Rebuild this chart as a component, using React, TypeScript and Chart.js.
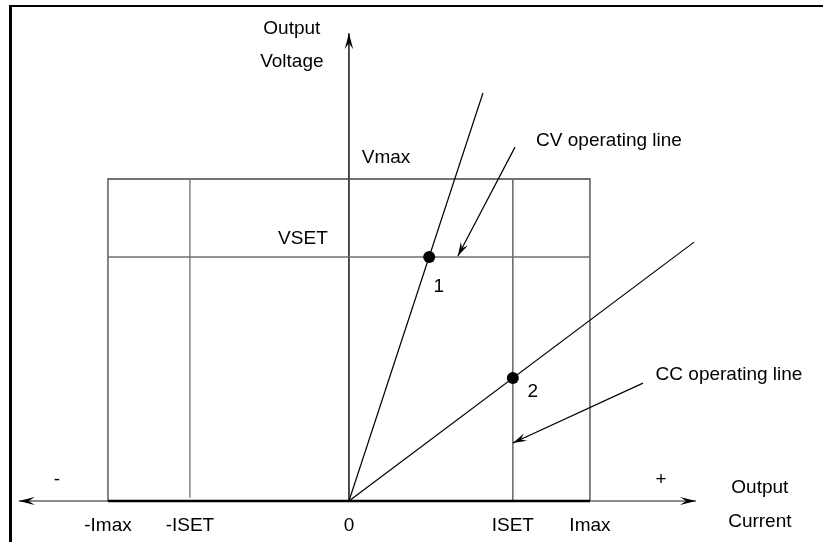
import React, { useEffect, useRef } from "react";
import { Chart, registerables } from "chart.js";

Chart.register(...registerables);

// ---- Data (current in units where Imax = 10, voltage where Vmax = 10) ----
const IMAX = 10;
const ISET = 6.8;
const NEG_ISET = -6.6;
const VMAX = 10;
const VSET = 7.58;

const currentTickValues = [-IMAX, NEG_ISET, 0, ISET, IMAX];
const currentTickLabels = ["-Imax", "-ISET", "0", "ISET", "Imax"];

const currentAxis = [{ x: -13.7, y: 0 }, { x: 14.4, y: 0 }];
const voltageAxis = [{ x: 0, y: 0 }, { x: 0, y: 14.53 }];
const limitBox = [
  { x: -IMAX, y: 0 },
  { x: -IMAX, y: VMAX },
  { x: IMAX, y: VMAX },
  { x: IMAX, y: 0 },
];
const limitBoxBase = [{ x: -IMAX, y: 0 }, { x: IMAX, y: 0 }];
const vsetLine = [{ x: -IMAX, y: VSET }, { x: IMAX, y: VSET }];
const isetLine = [{ x: ISET, y: 0 }, { x: ISET, y: VMAX }];
const negIsetLine = [{ x: NEG_ISET, y: 0.1 }, { x: NEG_ISET, y: VMAX }];
const cvLoadLine = [{ x: 0, y: 0 }, { x: 5.56, y: 12.67 }];
const ccLoadLine = [{ x: 0, y: 0 }, { x: 14.32, y: 8.04 }];
const operatingPoints = [{ x: 3.33, y: VSET }, { x: ISET, y: 3.82 }];
const cvPointer = [{ x: 6.89, y: 10.99 }, { x: 4.52, y: 7.61 }];
const ccPointer = [{ x: 12.2, y: 3.66 }, { x: 6.8, y: 1.8 }];

// text annotations: [text, x, y]
const annotations: [string, number, number][] = [
  ["Output", -2.37, 14.66],
  ["Voltage", -2.37, 13.63],
  ["Vmax", 1.54, 10.65],
  ["VSET", -1.91, 8.14],
  ["CV operating line", 10.79, 11.18],
  ["1", 3.73, 6.65],
  ["2", 7.63, 3.39],
  ["CC operating line", 15.77, 3.91],
  ["-", -12.12, 0.65],
  ["+", 12.95, 0.65],
  ["Output", 17.05, 0.4],
  ["Current", 17.05, -0.65],
];
const tickLabelY = -0.78;

const FONT = "19px 'Liberation Sans', Arial, sans-serif";

function drawArrowHead(ctx: CanvasRenderingContext2D, fx: number, fy: number, tx: number, ty: number, len = 15, half = 4.2) {
  const dx = tx - fx;
  const dy = ty - fy;
  const d = Math.hypot(dx, dy) || 1;
  const ux = dx / d;
  const uy = dy / d;
  const nx = -uy;
  const ny = ux;
  ctx.beginPath();
  ctx.moveTo(tx, ty);
  ctx.lineTo(tx - len * ux + half * nx, ty - len * uy + half * ny);
  ctx.lineTo(tx - len * 0.62 * ux, ty - len * 0.62 * uy);
  ctx.lineTo(tx - len * ux - half * nx, ty - len * uy - half * ny);
  ctx.closePath();
  ctx.fill();
}

const diagramPlugin = {
  id: "diagramPlugin",
  afterDatasetsDraw(chart: any) {
    const ctx: CanvasRenderingContext2D = chart.ctx;
    const xs = chart.scales.x;
    const ys = chart.scales.y;
    const px = (v: number) => xs.getPixelForValue(v);
    const py = (v: number) => ys.getPixelForValue(v);
    ctx.save();
    chart.data.datasets.forEach((ds: any) => {
      const pts = ds.data;
      if (!pts || pts.length < 2) return;
      ctx.fillStyle = ds.arrowColor || "#000";
      if (ds.arrowEnd) {
        const a = pts[pts.length - 2];
        const b = pts[pts.length - 1];
        drawArrowHead(ctx, px(a.x), py(a.y), px(b.x), py(b.y), ds.arrowLen, ds.arrowHalf);
      }
      if (ds.arrowStart) {
        const a = pts[1];
        const b = pts[0];
        drawArrowHead(ctx, px(a.x), py(a.y), px(b.x), py(b.y), ds.arrowLen, ds.arrowHalf);
      }
    });
    ctx.fillStyle = "#000";
    ctx.font = FONT;
    ctx.textAlign = "center";
    ctx.textBaseline = "middle";
    annotations.forEach(([t, x, y]) => ctx.fillText(t, px(x), py(y)));
    currentTickValues.forEach((v, i) => ctx.fillText(currentTickLabels[i], px(v), py(tickLabelY)));
    ctx.restore();
  },
};

function lineDs(data: any[], color: string, width: number, order: number, extra: any = {}) {
  return {
    type: "scatter" as const,
    data,
    showLine: true,
    borderColor: color,
    borderWidth: width,
    pointRadius: 0,
    pointHoverRadius: 0,
    fill: false,
    tension: 0,
    clip: false,
    order,
    ...extra,
  };
}

export default function App() {
  const ref = useRef<HTMLCanvasElement | null>(null);
  useEffect(() => {
    if (!ref.current) return;
    const chart = new Chart(ref.current, {
      type: "scatter",
      data: {
        datasets: [
          {
            type: "scatter",
            data: operatingPoints,
            showLine: false,
            pointRadius: 6,
            pointHoverRadius: 6,
            backgroundColor: "#000",
            borderColor: "#000",
            borderWidth: 0,
            order: 0,
          } as any,
          lineDs(cvPointer, "#000", 1.2, 1, { arrowEnd: true, arrowLen: 14, arrowHalf: 4 }),
          lineDs(ccPointer, "#000", 1.2, 1, { arrowEnd: true, arrowLen: 14, arrowHalf: 4 }),
          lineDs(cvLoadLine, "#000", 1.2, 2),
          lineDs(ccLoadLine, "#000", 1.2, 2),
          lineDs(limitBoxBase, "#000", 2.5, 3),
          lineDs(vsetLine, "#6e6e6e", 1.6, 4),
          lineDs(isetLine, "#6e6e6e", 1.6, 4),
          lineDs(negIsetLine, "#6e6e6e", 1.3, 4),
          lineDs(limitBox, "#444", 1.3, 5),
          lineDs(voltageAxis, "#000", 1.4, 6, { arrowEnd: true, arrowLen: 16, arrowHalf: 4.2 }),
          lineDs(currentAxis, "#666", 1.5, 7, { arrowEnd: true, arrowStart: true, arrowLen: 16, arrowHalf: 4, arrowColor: "#000" }),
        ] as any,
      },
      options: {
        animation: false,
        responsive: false,
        devicePixelRatio: 1,
        events: [],
        layout: { padding: 0, autoPadding: false },
        plugins: { legend: { display: false }, tooltip: { enabled: false } },
        scales: {
          x: { type: "linear", min: -14.48, max: 19.67, display: false },
          y: { type: "linear", min: -1.273, max: 15.56, display: false },
        },
      },
      plugins: [diagramPlugin],
    } as any);
    return () => chart.destroy();
  }, []);

  return (
    <div style={{ position: "fixed", left: 0, top: 0, width: 823, height: 542, background: "#fff", overflow: "hidden" }}>
      <canvas ref={ref} width={823} height={542} style={{ display: "block", width: 823, height: 542 }} />
      <div
        style={{
          position: "absolute",
          left: 9,
          top: 5,
          width: 830,
          height: 560,
          borderLeft: "3px solid #000",
          borderTop: "2px solid #000",
          pointerEvents: "none",
        }}
      />
    </div>
  );
}
